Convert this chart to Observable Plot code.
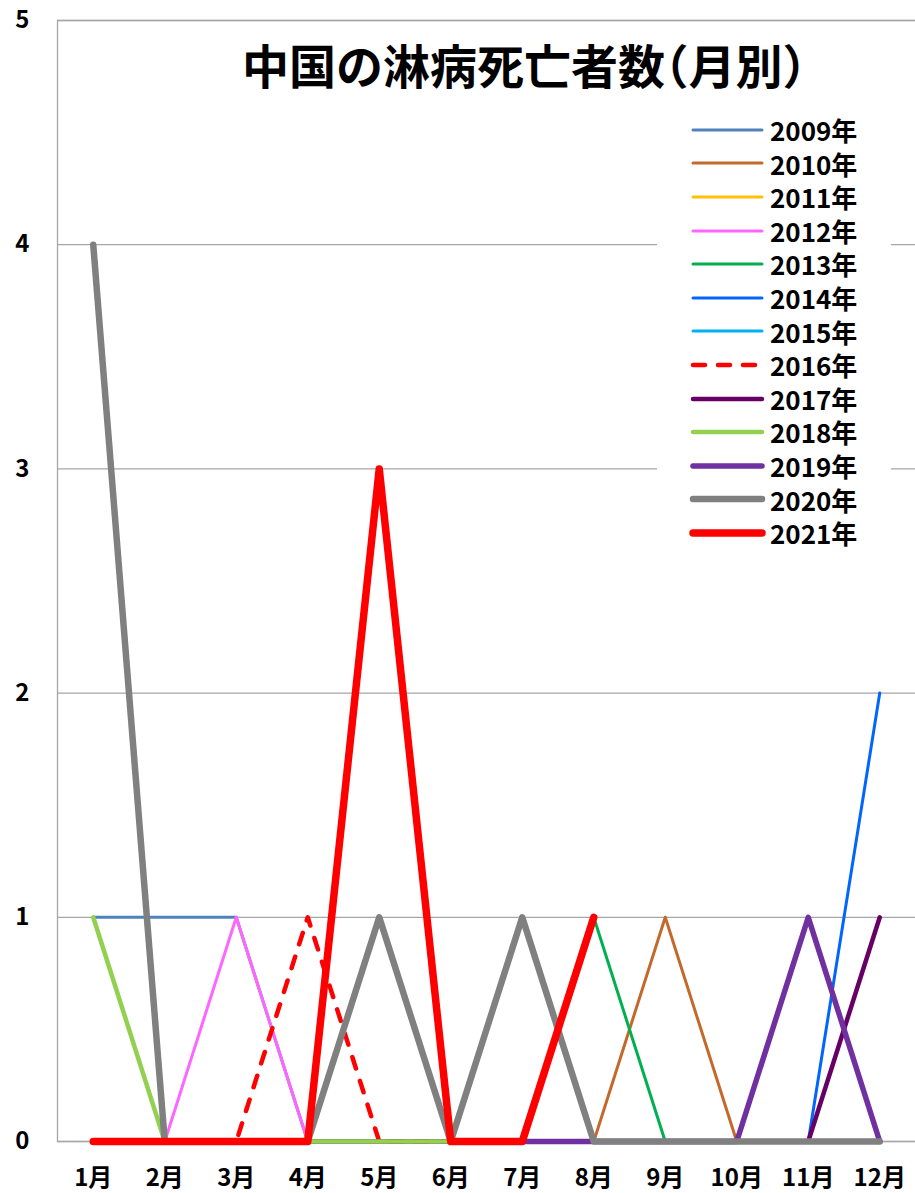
<!DOCTYPE html>
<html><head><meta charset="utf-8">
<script src="https://cdn.jsdelivr.net/npm/d3@7"></script>
<script src="https://cdn.jsdelivr.net/npm/@observablehq/plot@0.6"></script>
<style>
html,body{margin:0;padding:0;background:#fff;overflow:hidden;}
#wrap{position:relative;width:915px;height:1193px;}
#title{position:absolute;left:242px;top:40px;font-family:"Noto Sans CJK JP",sans-serif;font-weight:bold;font-size:47px;line-height:47px;white-space:nowrap;color:#000;}
#title .p{font-feature-settings:"halt";}
#legend{position:absolute;left:657px;top:113px;width:234px;background:#fff;}
.row{height:33.6px;display:flex;align-items:center;}
.row svg{display:block;flex:none;}
.row span{font-family:"Noto Sans CJK JP",sans-serif;font-weight:bold;font-size:26px;line-height:33.6px;color:#000;white-space:nowrap;}
</style>
</head><body>
<div id="wrap"></div>
<script>
const months = ["1月","2月","3月","4月","5月","6月","7月","8月","9月","10月","11月","12月"];
const yTicks = [0,1,2,3,4,5];
const years = ["2009年","2010年","2011年","2012年","2013年","2014年","2015年","2016年","2017年","2018年","2019年","2020年","2021年"];
const titleText = "中国の淋病死亡者数（月別）";

const v2009 = [1,1,1,0,0,0,0,0,0,0,0,0];
const v2010 = [0,0,0,0,0,0,0,0,1,0,0,0];
const v2011 = [0,0,0,0,0,0,0,0,0,0,0,0];
const v2012 = [0,0,1,0,0,0,0,0,0,0,0,0];
const v2013 = [0,0,0,0,0,0,0,1,0,0,0,0];
const v2014 = [0,0,0,0,0,0,0,0,0,0,0,2];
const v2015 = [0,0,0,0,0,0,0,0,0,0,0,0];
const v2016 = [0,0,0,1,0,0,0,0,0,0,0,0];
const v2017 = [0,0,0,0,0,0,0,0,0,0,0,1];
const v2018 = [1,0,0,0,0,0,0,0,0,0,0,0];
const v2019 = [null,null,null,null,null,null,0,0,0,0,1,0];
const v2020 = [4,0,0,0,1,0,1,0,0,0,0,0];
const v2021 = [0,0,0,0,3,0,0,1,null,null,null,null];

const seriesValues = [v2009,v2010,v2011,v2012,v2013,v2014,v2015,v2016,v2017,v2018,v2019,v2020,v2021];
const colors = ["#4F81BD","#C4692C","#FFC000","#FF66FF","#00B050","#0066FF","#00B0F0","#FF0000","#660066","#92D050","#7030A0","#808080","#FF0000"];
const widths = [3,3,3,3,3,3,3,4.5,4.5,4.5,5.5,6.5,7.5];
const dashes = [null,null,null,null,null,null,null,"12,13",null,null,null,null,null];

const rows = years.flatMap((yr, i) => seriesValues[i].map((v, j) => ({year: yr, month: months[j], value: v})));

const lineMarks = years.map((yr, i) => Plot.line(rows.filter(d => d.year === yr), {
  x: "month", y: "value",
  stroke: colors[i], strokeWidth: widths[i],
  strokeDasharray: dashes[i] || undefined,
  strokeLinecap: "round", strokeLinejoin: "round"
}));

const chart = Plot.plot({
  width: 915, height: 1193,
  marginLeft: 57, marginRight: 0, marginTop: 20, marginBottom: 52,
  style: {fontFamily: '"Noto Sans CJK JP", sans-serif', fontSize: "24px", fontWeight: "bold", color: "#000", background: "#fff"},
  x: {type: "point", domain: months, padding: 0.5, round: false, label: null, tickSize: 0, tickPadding: 27},
  y: {domain: [0, 5], ticks: yTicks, label: null, tickSize: 0, tickPadding: 28, tickFormat: d => String(d)},
  marks: [
    Plot.ruleY(yTicks, {stroke: "#A6A6A6", strokeWidth: 1.3}),
    Plot.frame({stroke: "#A6A6A6", strokeWidth: 1.3, insetRight: -5}),
    ...lineMarks
  ]
});

const wrap = document.getElementById("wrap");
wrap.appendChild(chart);

const title = document.createElement("div");
title.id = "title";
for (const ch of titleText) {
  const s = document.createElement("span");
  if (ch === "（" || ch === "）") s.className = "p";
  s.textContent = ch;
  title.appendChild(s);
}
wrap.appendChild(title);

const legend = document.createElement("div");
legend.id = "legend";
years.forEach((yr, i) => {
  const row = document.createElement("div");
  row.className = "row";
  const svg = d3.create("svg").attr("width", 113).attr("height", 34);
  svg.append("line")
    .attr("x1", 36).attr("x2", 105).attr("y1", 17).attr("y2", 17)
    .attr("stroke", colors[i]).attr("stroke-width", widths[i])
    .attr("stroke-linecap", "round")
    .attr("stroke-dasharray", dashes[i]);
  row.appendChild(svg.node());
  const span = document.createElement("span");
  span.textContent = yr;
  row.appendChild(span);
  legend.appendChild(row);
});
wrap.appendChild(legend);
</script>
</body></html>
